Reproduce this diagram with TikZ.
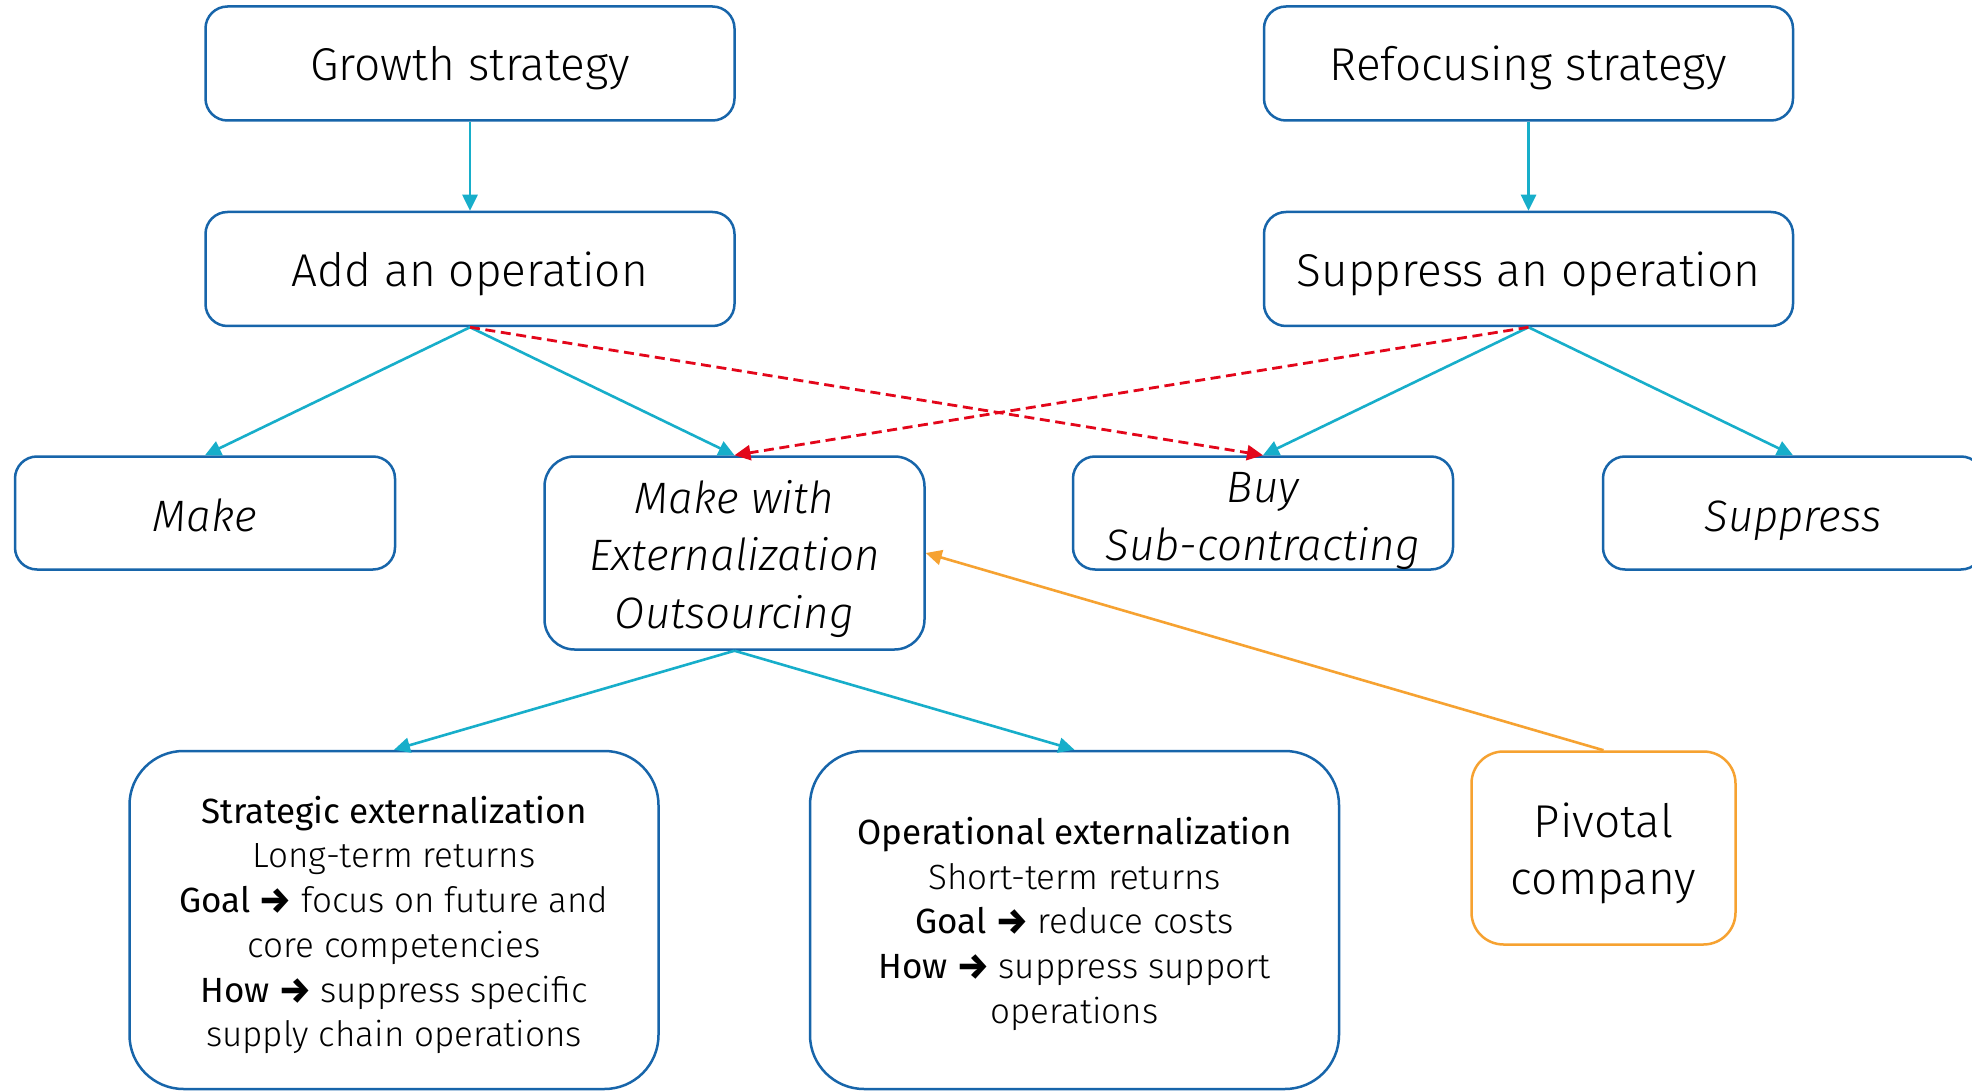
\documentclass[tikz,border=0pt]{standalone}
\usepackage{fontspec}
\IfFontExistsTF{Fira Sans Light}{%
  \IfFontExistsTF{Fira Sans Light Italic}{%
    \setmainfont{Fira Sans Light}[BoldFont={Fira Sans}, ItalicFont={Fira Sans Light Italic}, BoldItalicFont={Fira Sans Italic}]%
  }{%
    \setmainfont{Fira Sans Light}[BoldFont={Fira Sans}, ItalicFont={Fira Sans Italic}]%
  }%
}{%
  \setmainfont{Fira Sans}%
}
\IfFontExistsTF{Fira Sans Bold}{%
  \newfontfamily\arrowfont{Fira Sans Bold}%
}{%
  \newfontfamily\arrowfont{Fira Sans}%
}
\newcommand{\leadsarrow}{{\arrowfont →}}
\usetikzlibrary{arrows.meta}
\definecolor{boxblue}{HTML}{1765AA}
\definecolor{linkcyan}{HTML}{17AECA}
\definecolor{crossred}{HTML}{E3061A}
\definecolor{pivorange}{HTML}{F6A231}
\begin{document}
\begin{tikzpicture}[x=0.5pt,y=-0.5pt,
  % the last baseline of each box sits (text height)/2 below its centre
  box/.style={draw=boxblue, line width=1.25pt, rounded corners=11pt, inner sep=0pt,
    align=center, fill=white, shape=rectangle, text depth=0pt},
  headbox/.style={box, minimum width=264.5pt, minimum height=57pt,
    font=\fontsize{23}{28}\selectfont, text height=17.5pt},
  optbox/.style={box, minimum width=190pt, minimum height=56.5pt,
    font=\fontsize{22}{28.75}\selectfont\itshape, text height=18.7pt},
  tallbox/.style={optbox, minimum height=96.5pt, rounded corners=15pt},
  detailbox/.style={box, minimum width=264.5pt, minimum height=169pt, rounded corners=27pt,
    font=\fontsize{17.5}{22.35}\selectfont},
  pivotbox/.style={box, draw=pivorange, minimum width=132pt, minimum height=96.5pt,
    rounded corners=16pt, font=\fontsize{23}{28.4}\selectfont, text height=46pt},
  tip/.style={-{Triangle[length=8pt,width=7.5pt]}},
  link/.style={draw=linkcyan, line width=1.3pt, tip},
  cross/.style={draw=crossred, line width=1.4pt, dash pattern=on 5pt off 2.8pt, tip},
  feed/.style={draw=pivorange, line width=1.3pt, tip}
]
\useasboundingbox (0,0) rectangle (1972,1091);
\clip (0,0) rectangle (1972,1091);
\fill[white] (0,0) rectangle (1972,1091);

% strategies
\node[headbox] (growth)  at (470,63.5)    {Growth strategy};
\node[headbox] (refocus) at (1528.5,63.5) {Refocusing strategy};
\node[headbox] (add)     at (470,269)     {Add an operation};
\node[headbox] (supop)   at (1528.5,269)  {Suppress an operation};

% options
\node[optbox]  (make)     at (205,513)    {Make};
\node[tallbox, text height=75.3pt] (makewith) at (734.5,553)
  {Make with\\Externalization\\Outsourcing};
\node[optbox, text height=47pt] (buy) at (1263,513) {Buy\\Sub-contracting};
\node[optbox]  (suppress) at (1793,513)   {Suppress};

% kinds of externalization
\node[detailbox, text height=126.7pt] (strat) at (394,920)
  {\textbf{Strategic externalization}\\Long-term returns\\
   \textbf{Goal \leadsarrow} focus on future and\\core competencies\\
   \textbf{How \leadsarrow} suppress specific\\supply chain operations};
\node[detailbox, text height=103.3pt] (oper) at (1074.5,920)
  {\textbf{Operational externalization}\\Short-term returns\\
   \textbf{Goal \leadsarrow} reduce costs\\\textbf{How \leadsarrow} suppress support\\operations};
\node[pivotbox] (pivot) at (1603.5,848) {Pivotal\\company};

% connectors
\draw[link] (growth.south) -- (add.north);
\draw[link] (refocus.south) -- (supop.north);
\draw[link] (add.south) -- (make.north);
\draw[link] (add.south) -- (makewith.north);
\draw[link] (supop.south) -- (buy.north);
\draw[link] (supop.south) -- (suppress.north);
\draw[cross] (add.south) -- (buy.north);
\draw[cross] (supop.south) -- (makewith.north);
\draw[link] (makewith.south) -- (strat.north);
\draw[link] (makewith.south) -- (oper.north);
\draw[feed] (pivot.north) -- (makewith.east);
\end{tikzpicture}
\end{document}
